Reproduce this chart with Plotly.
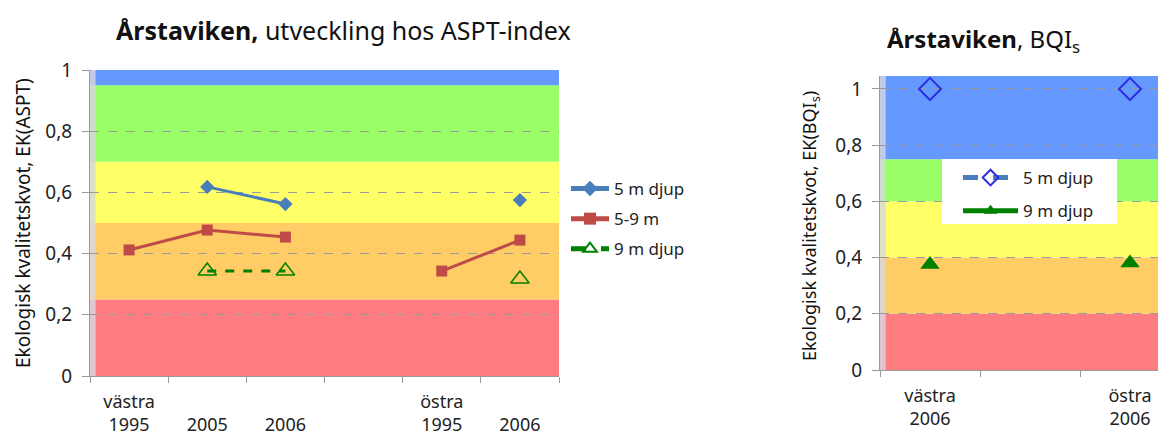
import plotly.graph_objects as go

# ---------------- data ----------------
left_tick_labels = ["västra<br>1995", "<br>2005", "<br>2006", "", "östra<br>1995", "<br>2006"]
left_x = [0, 1, 2, 3, 4, 5]
aspt_5m = [None, 0.618, 0.562, None, None, 0.575]
aspt_5_9m = [0.412, 0.477, 0.454, None, 0.343, 0.444]
aspt_9m = [None, 0.343, 0.343, None, None, 0.317]

right_tick_labels = ["västra<br>2006", "", "östra<br>2006"]
right_x = [0, 1, 2]
bqi_5m = [1.0, None, 1.0]
bqi_9m = [0.375, None, 0.381]

y_tick_vals = [0, 0.2, 0.4, 0.6, 0.8, 1.0]
y_tick_text = ["0", "0,2", "0,4", "0,6", "0,8", "1"]

left_band_edges = [0, 0.25, 0.5, 0.7, 0.95, 1.0]
right_band_edges = [0, 0.2, 0.4, 0.6, 0.75, 1.05]
band_colors = ["#FF7C80", "#FFCC66", "#FFFF66", "#99FF66", "#6699FF"]

FONT = "Noto Sans"
OFF = 8  # page body margin
W, H = 1166 - OFF, 437 - OFF


def px(x):
    return (x - OFF) / W


def py(y):
    return 1 - (y - OFF) / H


fig = go.Figure()

# left chart traces
fig.add_trace(go.Scatter(x=left_x, y=aspt_5m, name="5 m djup", mode="lines+markers",
                         line=dict(color="#4A7EBB", width=3),
                         marker=dict(symbol="diamond", size=11, color="#4A7EBB"),
                         xaxis="x", yaxis="y", legend="legend", legendgroup="a"))
fig.add_trace(go.Scatter(x=left_x, y=aspt_5_9m, name="5-9 m", mode="lines+markers",
                         line=dict(color="#BE4B48", width=3),
                         marker=dict(symbol="square", size=11, color="#BE4B48"),
                         xaxis="x", yaxis="y", legend="legend", legendgroup="b"))
fig.add_trace(go.Scatter(x=left_x, y=aspt_9m, name="9 m djup", mode="lines+markers",
                         line=dict(color="#008000", width=3, dash="dash"),
                         marker=dict(symbol="triangle-up-open", size=16, color="#008000",
                                     line=dict(width=1.5)),
                         xaxis="x", yaxis="y", legend="legend", legendgroup="c"))

# right chart traces
fig.add_trace(go.Scatter(x=right_x, y=bqi_5m, name="5 m djup", mode="lines+markers",
                         line=dict(color="#4A7EBB", width=2, dash="dash"),
                         marker=dict(symbol="diamond-open", size=17, color="#2E2EE6",
                                     line=dict(width=2)),
                         xaxis="x2", yaxis="y2", legend="legend2", legendgroup="d",
                         connectgaps=False))
fig.add_trace(go.Scatter(x=right_x, y=bqi_9m, name="9 m djup", mode="lines+markers",
                         line=dict(color="#008000", width=3),
                         marker=dict(symbol="triangle-up", size=17, color="#008000"),
                         xaxis="x2", yaxis="y2", legend="legend2", legendgroup="e",
                         connectgaps=False))

shapes = []
for edges, xr, yr, strip in [(left_band_edges, "x domain", "y", 0.012),
                             (right_band_edges, "x2 domain", "y2", 0.02)]:
    for i, c in enumerate(band_colors):
        shapes.append(dict(type="rect", xref=xr, yref=yr, x0=0, x1=1,
                           y0=edges[i], y1=edges[i + 1], fillcolor=c,
                           line=dict(width=0), layer="below"))
    shapes.append(dict(type="rect", xref=xr, yref=yr + " domain", x0=0, x1=strip,
                       y0=0, y1=1, fillcolor="rgba(215,215,225,0.8)",
                       line=dict(width=0), layer="below"))
# white legend box of the right chart
shapes.append(dict(type="rect", xref="paper", yref="paper", x0=px(942), x1=px(1117),
                   y0=py(224), y1=py(159), fillcolor="white", line=dict(width=0),
                   layer="above"))


def xaxis_common(ticklabels, xs, rng, domain, anchor):
    bounds = [v - 0.5 for v in xs] + [xs[-1] + 0.5]
    return dict(domain=domain, anchor=anchor, range=rng, tickmode="array",
                tickvals=xs, ticktext=ticklabels, ticks="", showgrid=False,
                zeroline=False, showline=True, linecolor="#9a9a9a", linewidth=1,
                automargin=False, ticklabelstandoff=9,
                tickfont=dict(family=FONT, size=18, color="#222"),
                minor=dict(tickmode="array", tickvals=bounds, ticks="outside",
                           ticklen=6, tickcolor="#9a9a9a", showgrid=False))


def yaxis_common(rng, domain, anchor):
    return dict(domain=domain, anchor=anchor, range=rng, tickmode="array",
                tickvals=y_tick_vals, ticktext=y_tick_text,
                ticks="outside", ticklen=7, tickcolor="#9a9a9a",
                showgrid=True, gridcolor="#9a9a9a", griddash="dash", gridwidth=1,
                zeroline=False, showline=True, linecolor="#9a9a9a", linewidth=1,
                automargin=False, ticklabelstandoff=6,
                tickfont=dict(family=FONT, size=19, color="#222"))


fig.update_layout(
    width=W, height=H,
    margin=dict(l=0, r=0, t=0, b=0),
    paper_bgcolor="white", plot_bgcolor="rgba(0,0,0,0)",
    separators=", ",
    shapes=shapes,
    xaxis=xaxis_common(left_tick_labels, left_x, [-0.5, 5.5], [px(90), px(559)], "y"),
    yaxis=yaxis_common([0, 1.0], [py(376), py(70)], "x"),
    xaxis2=xaxis_common(right_tick_labels, right_x, [-0.5, 2.36], [px(880), 1.0], "y2"),
    yaxis2=yaxis_common([0, 1.046], [py(370), py(76)], "x2"),
    legend=dict(x=px(566), y=py(171), xanchor="left", yanchor="top",
                bgcolor="rgba(0,0,0,0)", font=dict(family=FONT, size=17, color="#222"),
                tracegroupgap=5, itemwidth=38, itemsizing="constant"),
    legend2=dict(x=px(958), y=py(160), xanchor="left", yanchor="top",
                 bgcolor="rgba(0,0,0,0)", font=dict(family=FONT, size=17, color="#222"),
                 tracegroupgap=8, itemwidth=55, itemsizing="constant"),
    annotations=[
        dict(text="<b>Årstaviken,</b> utveckling hos ASPT-index", xref="paper", yref="paper",
             x=px(343), y=py(30), xanchor="center", yanchor="middle", showarrow=False,
             font=dict(family=FONT, size=25, color="#111")),
        dict(text="<b>Årstaviken</b>, BQI<sub>s</sub>", xref="paper", yref="paper",
             x=px(983), y=py(40), xanchor="center", yanchor="middle", showarrow=False,
             font=dict(family=FONT, size=24, color="#111")),
        dict(text="Ekologisk kvalitetskvot, EK(ASPT)", xref="paper", yref="paper",
             x=px(23), y=py(223), xanchor="center", yanchor="middle", showarrow=False,
             textangle=-90, font=dict(family=FONT, size=19, color="#111")),
        dict(text="Ekologisk kvalitetskvot, EK(BQI<sub>s</sub>)", xref="paper", yref="paper",
             x=px(810), y=py(226), xanchor="center", yanchor="middle", showarrow=False,
             textangle=-90, font=dict(family=FONT, size=18, color="#111")),
    ],
)

fig.write_html("out.html")
